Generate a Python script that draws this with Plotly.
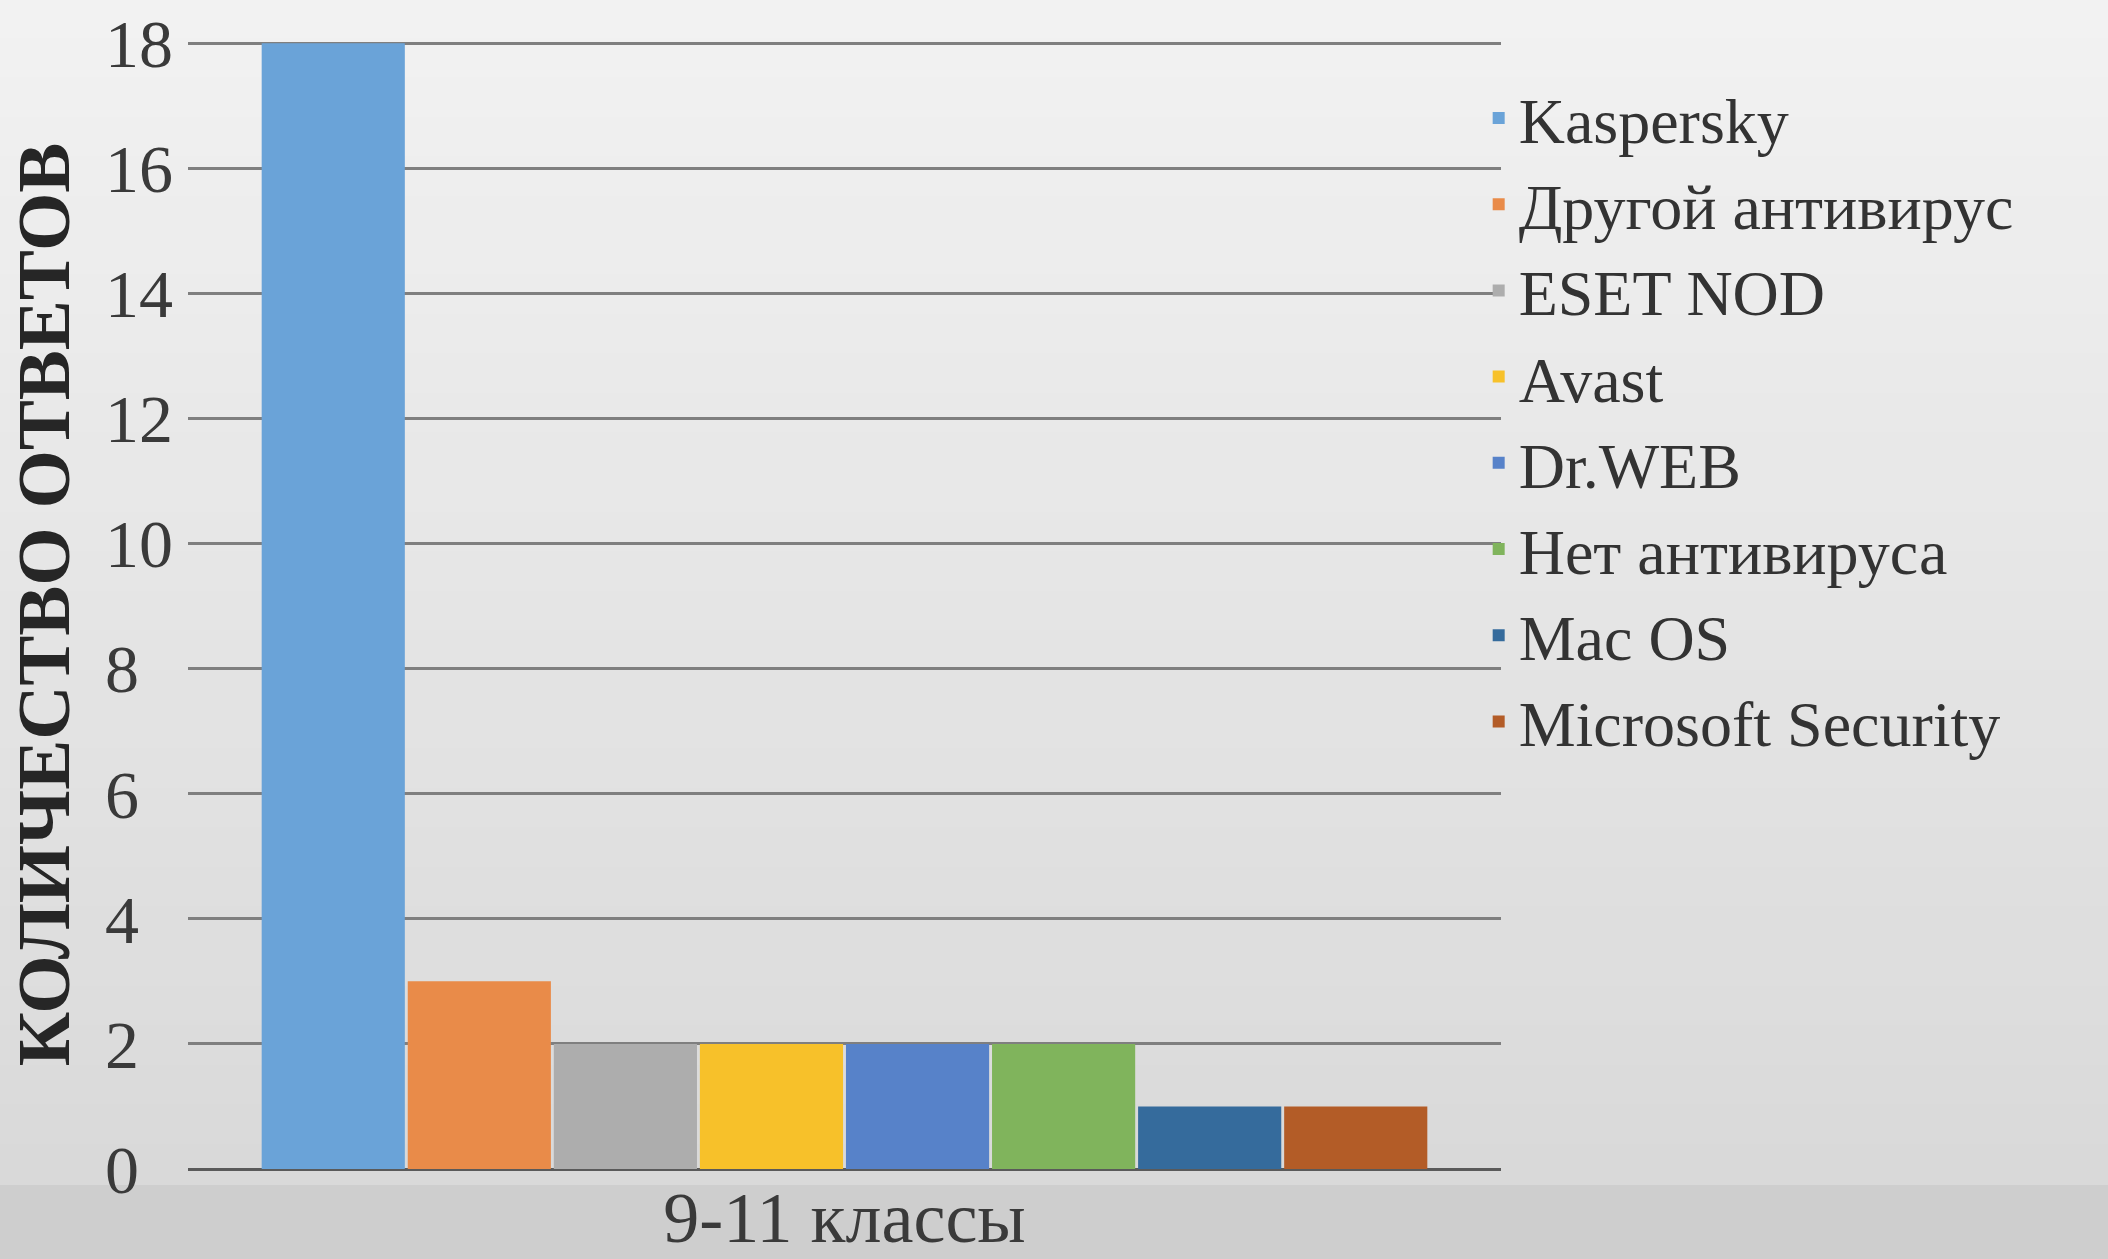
import plotly.graph_objects as go

category = ["9-11 классы"]
series_names = ["Kaspersky", "Другой антивирус", "ESET NOD", "Avast", "Dr.WEB",
                "Нет антивируса", "Mac OS", "Microsoft Security"]
series_values = [18, 3, 2, 2, 2, 2, 1, 1]
series_colors = ["#6AA3D8", "#E98B49", "#ADADAD", "#F7C12A", "#5782C9",
                 "#80B45C", "#356B9C", "#B35C27"]
y_ticks = [0, 2, 4, 6, 8, 10, 12, 14, 16, 18]
# single digits padded so they sit left-aligned like the original
y_tick_labels = ["0\u00a0\u00a0", "2\u00a0\u00a0", "4\u00a0\u00a0", "6\u00a0\u00a0",
                 "8\u00a0\u00a0", "10", "12", "14", "16", "18"]
y_title = "КОЛИЧЕСТВО ОТВЕТОВ"

W, H = 2108, 1259
L, R, T, B = 188, 607, 40, 90
ph = H - T - B

fig = go.Figure()
for name, val, col in zip(series_names, series_values, series_colors):
    fig.add_trace(go.Bar(name=name, x=category, y=[val],
                         marker=dict(color=col, line=dict(width=0))))

# background gradient strips (styling)
shapes = []
top_c = (0xF2, 0xF2, 0xF2)
bot_c = (0xD9, 0xD9, 0xD9)
band_px = 1185
n = 30
def py(px):
    return 1 - (px - T) / ph
for i in range(n):
    y0p = band_px * i / n
    y1p = band_px * (i + 1) / n
    f = (i + 0.5) / n
    c = tuple(int(round(a + (b - a) * f)) for a, b in zip(top_c, bot_c))
    shapes.append(dict(type="rect", xref="paper", yref="paper", x0=-0.3, x1=1.6,
                       y0=py(y1p), y1=py(y0p - 2), fillcolor="rgb(%d,%d,%d)" % c,
                       line=dict(width=0), layer="below"))
shapes.append(dict(type="rect", xref="paper", yref="paper", x0=-0.3, x1=1.6,
                   y0=py(H + 5), y1=py(band_px), fillcolor="#CECECE",
                   line=dict(width=0), layer="below"))

fig.update_layout(
    width=W, height=H,
    margin=dict(l=L, r=R, t=T, b=B, pad=0, autoexpand=False),
    paper_bgcolor="#E6E6E6",
    plot_bgcolor="rgba(0,0,0,0)",
    barmode="group",
    bargap=0.11,
    bargroupgap=0.02,
    shapes=shapes,
    font=dict(family="Liberation Serif", color="#3A3A3A"),
    showlegend=True,
    legend=dict(x=0.983, xanchor="left", y=0.9735, yanchor="top",
                font=dict(family="Liberation Serif", size=64, color="#333333"),
                bgcolor="rgba(0,0,0,0)", traceorder="normal",
                itemwidth=30, tracegroupgap=0),
    xaxis=dict(showgrid=False, showline=False, zeroline=False, automargin=False,
               tickfont=dict(size=72, color="#3A3A3A"), ticks="",
               ticklabelstandoff=0),
    yaxis=dict(range=[0, 18.05], tickvals=y_ticks, ticktext=y_tick_labels,
               showgrid=True, automargin=False,
               gridcolor="#7F7F7F", gridwidth=2.5, zeroline=True,
               zerolinecolor="#5A5A5A", zerolinewidth=3, showline=False,
               ticks="", ticklabelstandoff=14,
               tickfont=dict(size=68, color="#3A3A3A"),
               title=dict(text="<b>" + y_title + "</b>", standoff=10,
                          font=dict(size=75, color="#262626", family="Liberation Serif"))),
)

fig.write_html("out.html", config={"displayModeBar": False},
               post_script="document.body.style.margin='0';")
